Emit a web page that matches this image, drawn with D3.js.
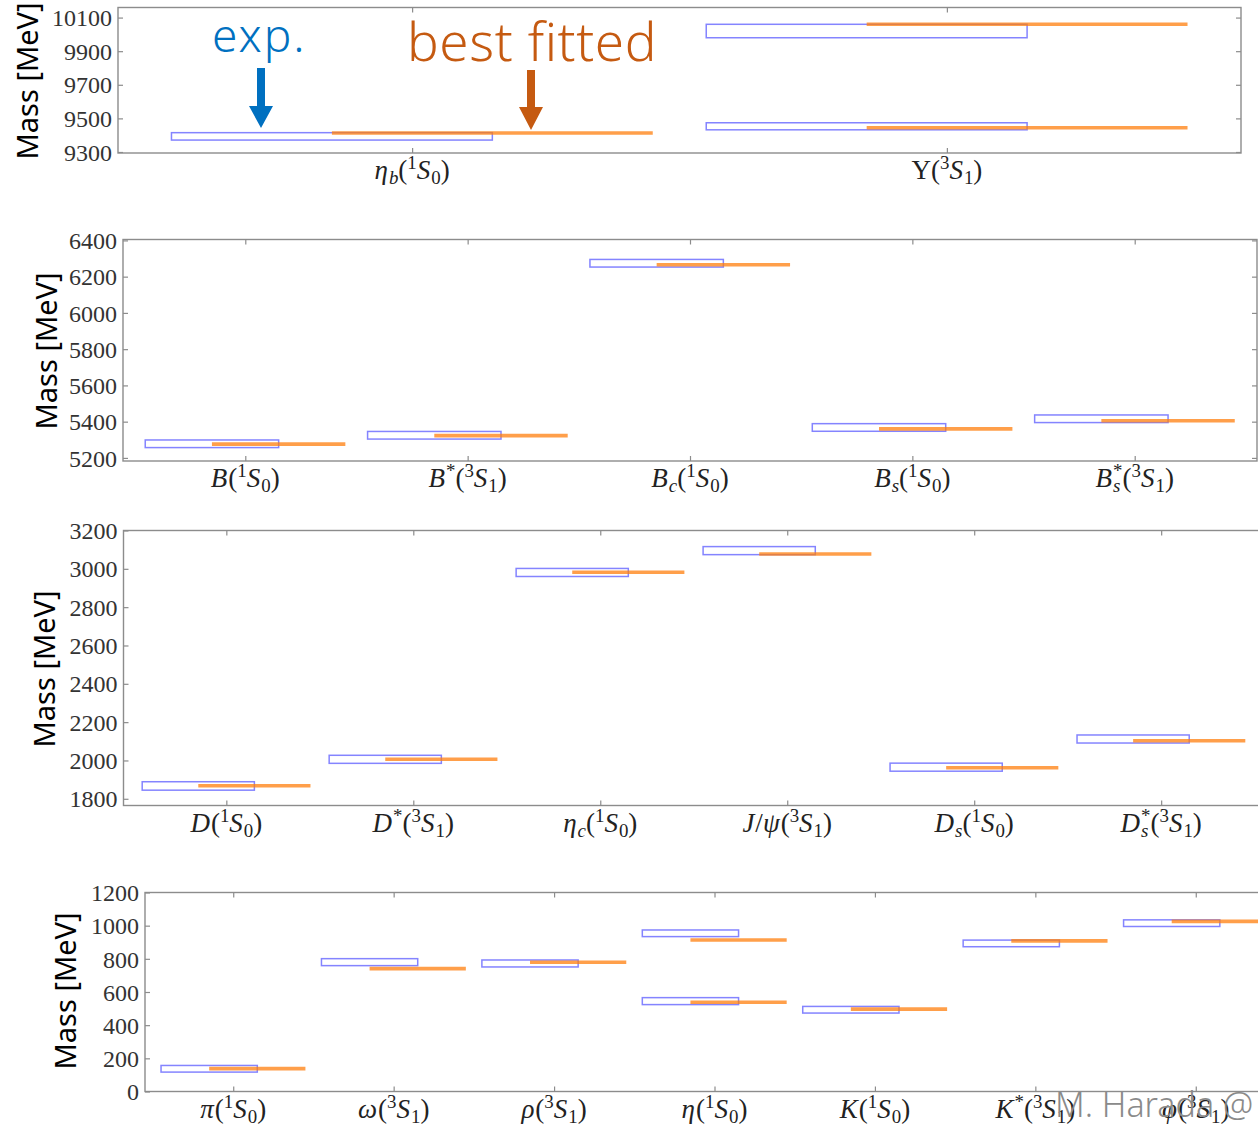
<!DOCTYPE html>
<html>
<head>
<meta charset="utf-8">
<script src="https://cdn.jsdelivr.net/npm/d3@7"></script>
<style>
body { margin: 0; background: #fff; }
svg { display: block; }
</style>
</head>
<body>
<div id="meson_masses"></div>
<script>
// ---- data (MeV) ----
// bottomonium
var bbCats = ["η_b(^1S_0)", "Υ(^3S_1)"];
var bbCat = [1, 2, 2];
var bbExp = [9393, 9453, 10020];
var bbErr = [22, 21, 40];
var bbFit = [9413, 9444, 10060];
var bbTicks = [9300, 9500, 9700, 9900, 10100];
var bbRange = [9294, 10160];

// B mesons
var bCats = ["B(^1S_0)", "B^*(^3S_1)", "B_c(^1S_0)", "B_s(^1S_0)", "B_s^*(^3S_1)"];
var bCat = [1, 2, 3, 4, 5];
var bExp = [5278, 5325, 6274, 5368, 5416];
var bErr = [21, 21, 21, 21, 21];
var bFit = [5276, 5323, 6266, 5360, 5405];
var bTicks = [5200, 5400, 5600, 5800, 6000, 6200, 6400];
var bRange = [5183, 6405];

// D mesons and charmonium
var dCats = ["D(^1S_0)", "D^*(^3S_1)", "η_c(^1S_0)", "J/ψ(^3S_1)", "D_s(^1S_0)", "D_s^*(^3S_1)"];
var dCat = [1, 2, 3, 4, 5, 6];
var dExp = [1867, 2006, 2981, 3095, 1965, 2112];
var dErr = [22, 21, 21, 21, 21, 21];
var dFit = [1868, 2006, 2982, 3077, 1962, 2103];
var dTicks = [1800, 2000, 2200, 2400, 2600, 2800, 3000, 3200];
var dRange = [1765, 3200];

// light mesons
var lCats = ["π(^1S_0)", "ω(^3S_1)", "ρ(^3S_1)", "η(^1S_0)", "K(^1S_0)", "K^*(^3S_1)", "φ(^3S_1)"];
var lCat = [1, 2, 3, 4, 4, 5, 6, 7];
var lExp = [137, 780, 772, 954, 545, 493, 893, 1015];
var lErr = [20, 21, 21, 20, 21, 20, 20, 20];
var lFit = [138, 741, 779, 914, 538, 497, 908, 1026];
var lTicks = [0, 200, 400, 600, 800, 1000, 1200];
var lRange = [0, 1200];

var W = 1258, H = 1126;
var serif = "Liberation Serif, DejaVu Serif, serif";
var sans = "Noto Sans, Open Sans, sans-serif";

var svg = d3.select("#meson_masses")
    .append("svg")
    .attr("width", W)
    .attr("height", H);

// layout of the four frames
var panels = [
    {cats: bbCats, cat: bbCat, exp: bbExp, err: bbErr, fit: bbFit, ticks: bbTicks, range: bbRange,
        left: 118, right: 1241, top: 7.5, bottom: 153, labX: 38, labY: 81},
    {cats: bCats, cat: bCat, exp: bExp, err: bErr, fit: bFit, ticks: bTicks, range: bRange,
        left: 123, right: 1257, top: 239.5, bottom: 461, labX: 57, labY: 351},
    {cats: dCats, cat: dCat, exp: dExp, err: dErr, fit: dFit, ticks: dTicks, range: dRange,
        left: 123.5, right: 1264, top: 530.5, bottom: 805.5, labX: 55, labY: 669},
    {cats: lCats, cat: lCat, exp: lExp, err: lErr, fit: lFit, ticks: lTicks, range: lRange,
        left: 145, right: 1284, top: 892.5, bottom: 1091.5, labX: 76, labY: 991}
];

var frameColor = "#8c8c8c";

panels.forEach(drawPanel);
drawNotes();

function drawPanel(p) {
    var n = p.cats.length;
    var x = d3.scaleLinear().domain([0.45, n + 0.55]).range([p.left, p.right]);
    var y = d3.scaleLinear().domain(p.range).range([p.bottom, p.top]);
    var g = svg.append("g");

    g.append("rect")
        .attr("x", p.left)
        .attr("y", p.top)
        .attr("width", p.right - p.left)
        .attr("height", p.bottom - p.top)
        .attr("fill", "none")
        .attr("stroke", frameColor)
        .attr("stroke-width", 1.4);

    var cats = d3.range(1, n + 1);

    // inward ticks on all four sides
    var bottomAxis = g.append("g")
        .attr("transform", "translate(0," + p.bottom + ")")
        .call(d3.axisTop(x).tickValues(cats).tickSize(5).tickFormat(""));
    var topAxis = g.append("g")
        .attr("transform", "translate(0," + p.top + ")")
        .call(d3.axisBottom(x).tickValues(cats).tickSize(5).tickFormat(""));
    var leftAxis = g.append("g")
        .attr("transform", "translate(" + p.left + ",0)")
        .call(d3.axisLeft(y).tickValues(p.ticks).tickSize(-5).tickPadding(6).tickFormat(d3.format("d")));
    var rightAxis = g.append("g")
        .attr("transform", "translate(" + p.right + ",0)")
        .call(d3.axisLeft(y).tickValues(p.ticks).tickSize(5).tickFormat(""));

    [bottomAxis, topAxis, leftAxis, rightAxis].forEach(function (a) {
        a.attr("font-family", serif).attr("font-size", 24);
        a.select(".domain").remove();
        a.selectAll(".tick line").attr("stroke", frameColor).attr("stroke-width", 1.2);
    });
    leftAxis.selectAll(".tick text")
        .attr("fill", "#333")
        .attr("dy", "0.34em")
        .attr("font-family", serif)
        .style("font-family", serif)
        .style("font-size", "24px");

    // category labels
    cats.forEach(function (c, i) {
        drawLabel(g, p.cats[i], x(c), p.bottom + 26, 27);
    });

    // experiment boxes
    var idx = d3.range(p.exp.length);
    g.selectAll("rect.exp")
        .data(idx)
        .enter()
        .append("rect")
        .attr("class", "exp")
        .attr("x", function (i) { return x(p.cat[i] - 0.45); })
        .attr("width", function (i) { return x(p.cat[i] + 0.15) - x(p.cat[i] - 0.45); })
        .attr("y", function (i) { return y(p.exp[i] + p.err[i]); })
        .attr("height", function (i) { return y(p.exp[i] - p.err[i]) - y(p.exp[i] + p.err[i]); })
        .attr("fill", "none")
        .attr("stroke", "#6f6fff")
        .attr("stroke-opacity", 0.85)
        .attr("stroke-width", 1.5);

    // best fitted lines
    g.selectAll("line.fit")
        .data(idx)
        .enter()
        .append("line")
        .attr("class", "fit")
        .attr("x1", function (i) { return x(p.cat[i] - 0.15); })
        .attr("x2", function (i) { return x(p.cat[i] + 0.45); })
        .attr("y1", function (i) { return y(p.fit[i]); })
        .attr("y2", function (i) { return y(p.fit[i]); })
        .attr("stroke", "#ff7f0e")
        .attr("stroke-opacity", 0.75)
        .attr("stroke-width", 3.6);

    svg.append("text")
        .attr("transform", "translate(" + p.labX + "," + p.labY + ") rotate(-90)")
        .style("text-anchor", "middle")
        .style("font-family", sans)
        .style("font-size", "29px")
        .attr("fill", "#000")
        .text("Mass [MeV]");
}

// tiny TeX-like label: _x subscript, ^x superscript, letters italic
function parseLabel(s) {
    var chars = Array.from(s);
    var out = [];
    for (var i = 0; i < chars.length; i++) {
        var c = chars[i], level = 0;
        if (c === "_" || c === "^") {
            level = (c === "_") ? -1 : 1;
            i++;
            c = chars[i];
        }
        var prev = out[out.length - 1];
        out.push({
            t: c,
            level: level,
            it: /[A-Za-z\u03b1-\u03c9]/.test(c),
            stack: level === 1 && prev && prev.level === -1
        });
    }
    return out;
}

function drawLabel(g, str, cx, baseline, size) {
    var pieces = parseLabel(str);
    var grp = g.append("g");
    var xpos = 0, lastStart = 0;
    pieces.forEach(function (p) {
        var fs = p.level === 0 ? size : size * 0.7;
        var dy = p.level === 1 ? -0.36 * size : (p.level === -1 ? 0.2 * size : 0);
        var start = p.stack ? lastStart : xpos;
        var t = grp.append("text")
            .attr("x", start)
            .attr("y", baseline + dy)
            .attr("fill", "#222")
            .attr("font-family", serif)
            .style("font-family", serif)
            .style("font-style", p.it ? "italic" : "normal")
            .style("font-size", fs + "px")
            .text(p.t);
        var w = t.node().getComputedTextLength();
        if (p.it && p.level === 0) w += 1;
        if (p.stack) {
            xpos = Math.max(xpos, start + w);
        } else {
            lastStart = start;
            xpos = start + w;
        }
    });
    grp.attr("transform", "translate(" + (cx - xpos / 2) + ",0)");
}

function drawNotes() {
    svg.append("text")
        .attr("x", 212)
        .attr("y", 52)
        .attr("fill", "#0070c0")
        .style("font-family", sans)
        .style("font-weight", 300)
        .style("font-size", "46px")
        .style("letter-spacing", "2px")
        .text("exp.");
    svg.append("text")
        .attr("x", 407)
        .attr("y", 61)
        .attr("fill", "#c55a11")
        .style("font-family", sans)
        .style("font-weight", 300)
        .style("font-size", "53px")
        .style("letter-spacing", "0.6px")
        .text("best fitted");

    // arrows pointing at the first pair of marks
    var arrows = [
        {cx: 261, y0: 68, y1: 106, tip: 128, color: "#0070c0"},
        {cx: 531, y0: 70, y1: 107, tip: 130, color: "#c55a11"}
    ];
    arrows.forEach(function (a) {
        svg.append("path")
            .attr("d", "M" + (a.cx - 4) + "," + a.y0 + "H" + (a.cx + 4) + "V" + a.y1 +
                "H" + (a.cx + 12) + "L" + a.cx + "," + a.tip + "L" + (a.cx - 12) + "," + a.y1 +
                "H" + (a.cx - 4) + "Z")
            .attr("fill", a.color);
    });

    svg.append("text")
        .attr("x", 1055)
        .attr("y", 1117)
        .attr("fill", "#8a8a8a")
        .style("font-family", sans)
        .style("font-weight", 300)
        .style("font-size", "34px")
        .text("M. Harada @");
}
</script>
</body>
</html>
